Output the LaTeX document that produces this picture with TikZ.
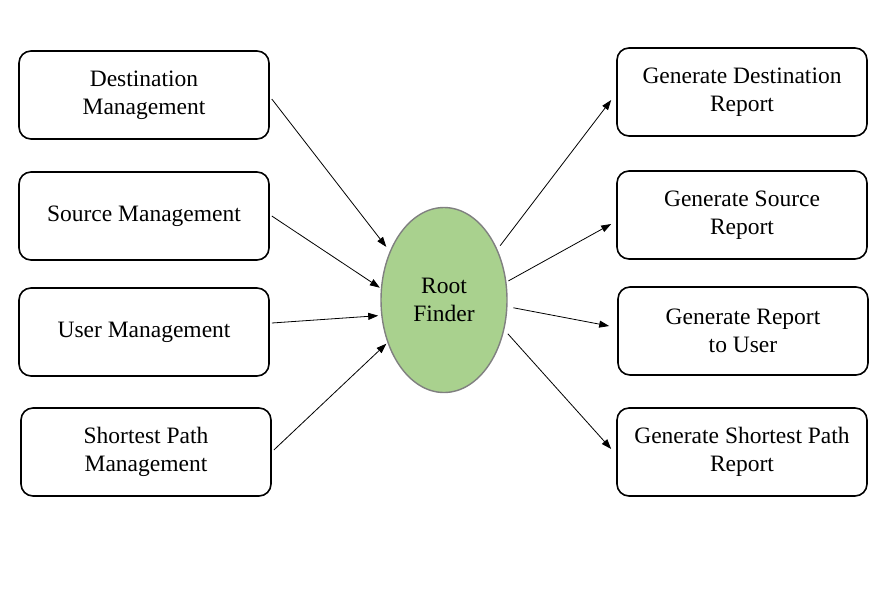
\documentclass[tikz,border=0pt]{standalone}
\usepackage{fontspec}
\setmainfont{Liberation Serif}
\usetikzlibrary{arrows.meta,shapes.geometric}
\definecolor{rfgreen}{HTML}{A9D18E}
\definecolor{rfedge}{HTML}{808080}
\begin{document}
\begin{tikzpicture}[x=1pt,y=-1pt,
  box/.style={draw=black,line width=1.6pt,rounded corners=12pt,minimum width=250pt,minimum height=88pt,align=center,
    font=\fontsize{23.5}{28}\selectfont,inner sep=0pt},
  conn/.style={-{Triangle[length=10pt,width=7pt]},line width=0.8pt}]
\useasboundingbox (0,0) rectangle (882,606);
\node[box] (b1) at (144,95) {Destination\\Management};
\node[box] (b2) at (144,216) {Source Management};
\node[box] (b3) at (144,332) {User Management};
\node[box] (b4) at (146,452) {Shortest Path\\Management};
\node[box] (r1) at (742,92) {Generate Destination\\Report};
\node[box] (r2) at (742,215) {Generate Source\\Report};
\node[box] (r3) at (743,331) {Generate Report\\to User};
\node[box] (r4) at (742,452) {Generate Shortest Path\\Report};
\node[ellipse,draw=rfedge,fill=rfgreen,line width=1.4pt,minimum width=126pt,minimum height=185pt,inner sep=0pt,
  align=center,font=\fontsize{23.5}{28}\selectfont] (rf) at (444,300) {Root\\Finder};
\draw[conn] ([shift={(2,4)}]b1.east) -- ([shift={(-4,-3)}]rf.137);
\draw[conn] ([shift={(2,0)}]b2.east) -- ([shift={(-1,0)}]rf.169);
\draw[conn] ([shift={(2,-9)}]b3.east) -- ([shift={(-3,0)}]rf.194);
\draw[conn] ([shift={(2,-2)}]b4.east) -- ([shift={(-1,1)}]rf.217);
\draw[conn] ([shift={(3,-3)}]rf.44) -- ([shift={(-5,8)}]r1.west);
\draw[conn] ([shift={(2,0)}]rf.17) -- ([shift={(-5,9)}]r2.west);
\draw[conn] ([shift={(6,0)}]rf.-7) -- ([shift={(-8,-5)}]r3.west);
\draw[conn] ([shift={(4,2)}]rf.-28) -- ([shift={(-5,-3)}]r4.west);
\end{tikzpicture}
\end{document}
